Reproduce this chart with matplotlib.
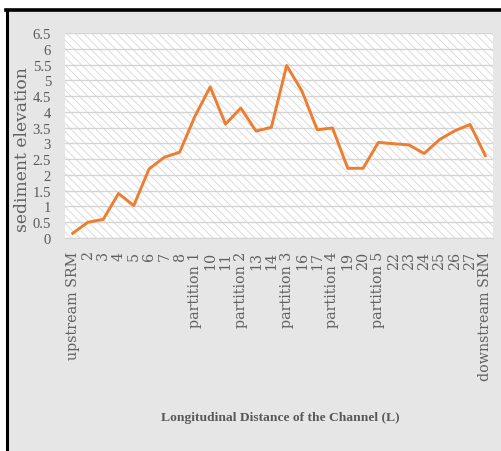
import matplotlib
matplotlib.use("Agg")
import matplotlib.pyplot as plt
from matplotlib.patches import Rectangle
from matplotlib.lines import Line2D

categories = ["upstream SRM", "2", "3", "4", "5", "6", "7", "8", "partition 1", "10", "11",
              "partition 2", "13", "14", "partition 3", "16", "17", "partition 4", "19", "20",
              "partition 5", "22", "23", "24", "25", "26", "27", "downstream SRM"]
elevation = [0.15, 0.50, 0.59, 1.41, 1.03, 2.19, 2.56, 2.72, 3.86, 4.79, 3.61,
             4.12, 3.39, 3.51, 5.47, 4.66, 3.43, 3.49, 2.21, 2.21,
             3.03, 2.99, 2.95, 2.68, 3.12, 3.40, 3.60, 2.61]
yticks = [0, 0.5, 1, 1.5, 2, 2.5, 3, 3.5, 4, 4.5, 5, 5.5, 6, 6.5]
ytick_labels = ["0", "0.5", "1", "1.5", "2", "2.5", "3", "3.5", "4", "4.5", "5", "5.5", "6", "6.5"]

W, H = 502, 452
plt.rcParams['hatch.linewidth'] = 0.6
fig = plt.figure(figsize=(W / 100, H / 100), dpi=100)
fig.patch.set_facecolor("white")

def fx(px):
    return px / W

def fy(py):
    return 1 - py / H

# gray panel with black border on left and top
fig.patches.append(Rectangle((fx(7), 0), 1, fy(11), transform=fig.transFigure,
                             facecolor="#e6e6e6", edgecolor="none", zorder=-10))
fig.lines.append(Line2D([fx(7), fx(7)], [0, fy(10.5)], transform=fig.transFigure,
                        color="black", linewidth=2.2, zorder=-5))
fig.lines.append(Line2D([fx(6), 1], [fy(10.5), fy(10.5)], transform=fig.transFigure,
                        color="black", linewidth=2.6, zorder=-5))

left, right, top, bottom = 65, 493, 34, 239
ax = fig.add_axes([fx(left), fy(bottom), fx(right - left), fy(top) - fy(bottom)])
ax.set_facecolor("white")
ax.add_patch(Rectangle((0, 0), 1, 1, transform=ax.transAxes, facecolor="white",
                       edgecolor="#d6d6d6", hatch="\\\\\\\\", linewidth=0, zorder=0))

x = list(range(len(categories)))
ax.plot(x, elevation, color="#ed7d31", linewidth=2.1, zorder=3)

ax.set_xlim(-0.5, len(categories) - 0.5)
ax.set_ylim(0, 6.5)
ax.set_yticks(yticks)
ax.set_yticklabels(ytick_labels)
ax.set_xticks(x)
ax.set_xticklabels(categories, rotation=90)
ax.yaxis.grid(True, color="#d4d4d4", linewidth=1.0, zorder=1)
ax.set_axisbelow(True)
for s in ["top", "right", "left"]:
    ax.spines[s].set_visible(False)
ax.spines["bottom"].set_color("#d4d4d4")
ax.spines["bottom"].set_linestyle((0, (2, 1)))
ax.tick_params(axis="both", length=0, colors="#595959")
ax.tick_params(axis="y", pad=10)
ax.tick_params(axis="x", pad=9)
for lab in ax.get_yticklabels():
    lab.set_fontfamily("Liberation Serif")
    lab.set_fontsize(10.5)
    lab.set_color("#595959")
for lab in ax.get_xticklabels():
    lab.set_fontfamily("DejaVu Serif")
    lab.set_fontsize(10.3)
    lab.set_color("#606060")

fig.text(fx(23), fy(150), "sediment elevation", rotation=90, ha="center", va="center",
         fontfamily="DejaVu Serif", fontsize=12.3, color="#606060")
fig.text(fx(280), fy(418), "Longitudinal Distance of the Channel (L)", ha="center", va="center",
         fontfamily="Liberation Serif", fontweight="bold", fontsize=9.7, color="#595959")

fig.savefig("out.png", dpi=100)
